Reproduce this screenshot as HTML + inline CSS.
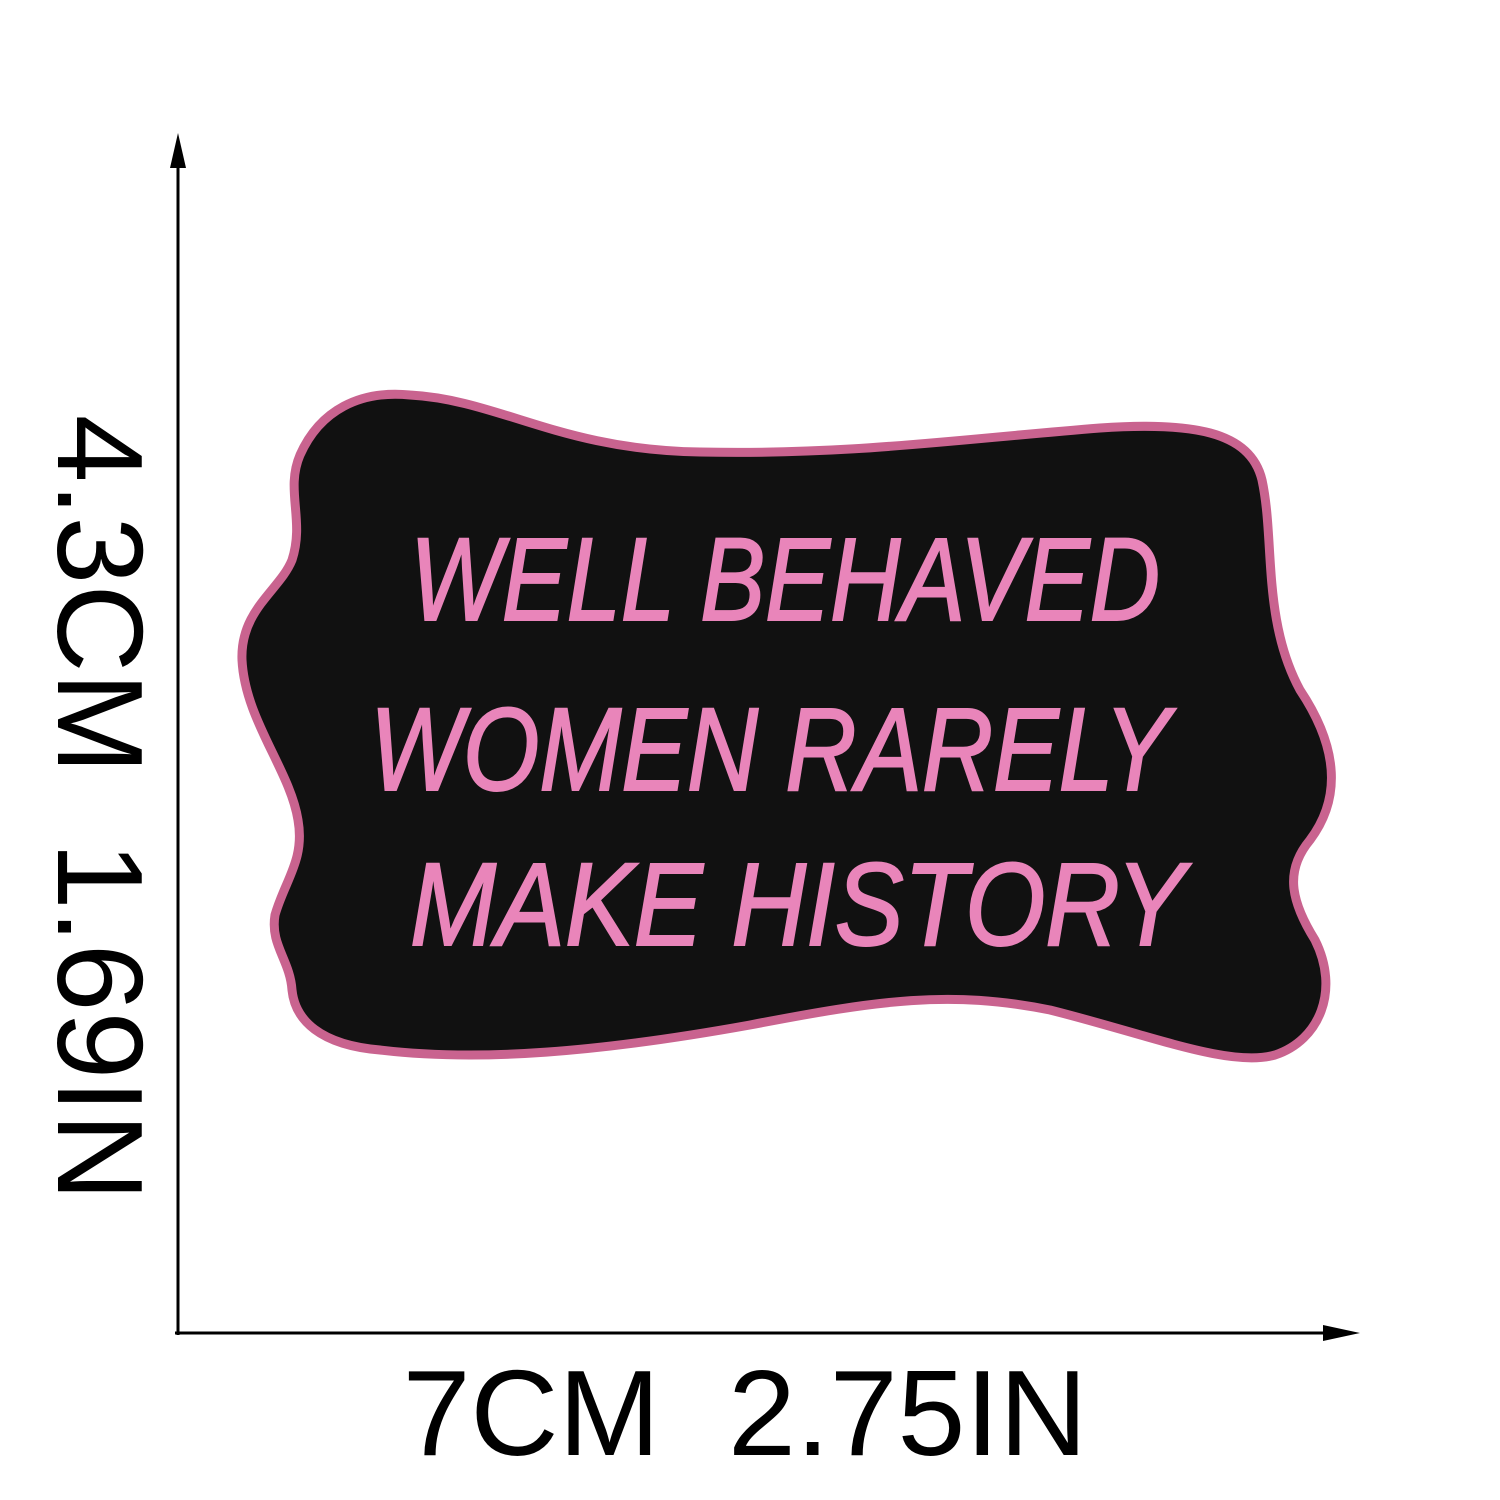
<!DOCTYPE html>
<html>
<head>
<meta charset="utf-8">
<style>
  html,body{margin:0;padding:0;background:#fff;}
  svg{display:block;}
  .dim{font-family:"Liberation Sans",sans-serif;font-size:122px;fill:#000;}
  .patch-text{font-family:"Liberation Sans",sans-serif;font-style:italic;font-size:118px;fill:#e985ba;stroke:#e985ba;stroke-width:2;}
</style>
</head>
<body>
<svg width="1500" height="1500" viewBox="0 0 1500 1500">
  <rect width="1500" height="1500" fill="#fff"/>

  <g>
    <line x1="178" y1="150" x2="178" y2="1335" stroke="#000" stroke-width="3"/>
    <polygon points="178,133 170,168 186,168" fill="#000"/>
  </g>
  <g>
    <line x1="175" y1="1333" x2="1345" y2="1333" stroke="#000" stroke-width="3"/>
    <polygon points="1360,1333 1323,1325 1323,1341" fill="#000"/>
  </g>

  <text class="dim" x="745" y="1455" text-anchor="middle">7CM&#160;&#160;2.75IN</text>
  <text class="dim" transform="translate(58,808) rotate(90)" text-anchor="middle">4.3CM&#160;&#160;1.69IN</text>

  <g>
    <path
      d="M300,455
         C320,410 360,390 410,395
         C500,400 560,450 700,452
         C850,455 950,440 1100,428
         C1190,422 1250,430 1262,480
         C1275,540 1262,620 1300,690
         C1340,750 1340,800 1310,840
         C1285,870 1290,900 1315,940
         C1340,990 1320,1040 1275,1055
         C1230,1068 1150,1035 1050,1010
         C950,990 880,1000 750,1025
         C600,1052 480,1062 380,1050
         C320,1045 295,1020 292,990
         C290,960 270,945 275,915
         C285,880 305,860 298,820
         C290,770 245,720 242,660
         C240,610 280,590 292,560
         C305,520 285,490 300,455 Z"
      fill="#111" stroke="#c9638f" stroke-width="9"/>
    <text class="patch-text" x="410" y="620" textLength="750" lengthAdjust="spacingAndGlyphs">WELL BEHAVED</text>
    <text class="patch-text" x="370" y="790" textLength="800" lengthAdjust="spacingAndGlyphs">WOMEN RARELY</text>
    <text class="patch-text" x="410" y="945" textLength="775" lengthAdjust="spacingAndGlyphs">MAKE HISTORY</text>
  </g>
</svg>
</body>
</html>
